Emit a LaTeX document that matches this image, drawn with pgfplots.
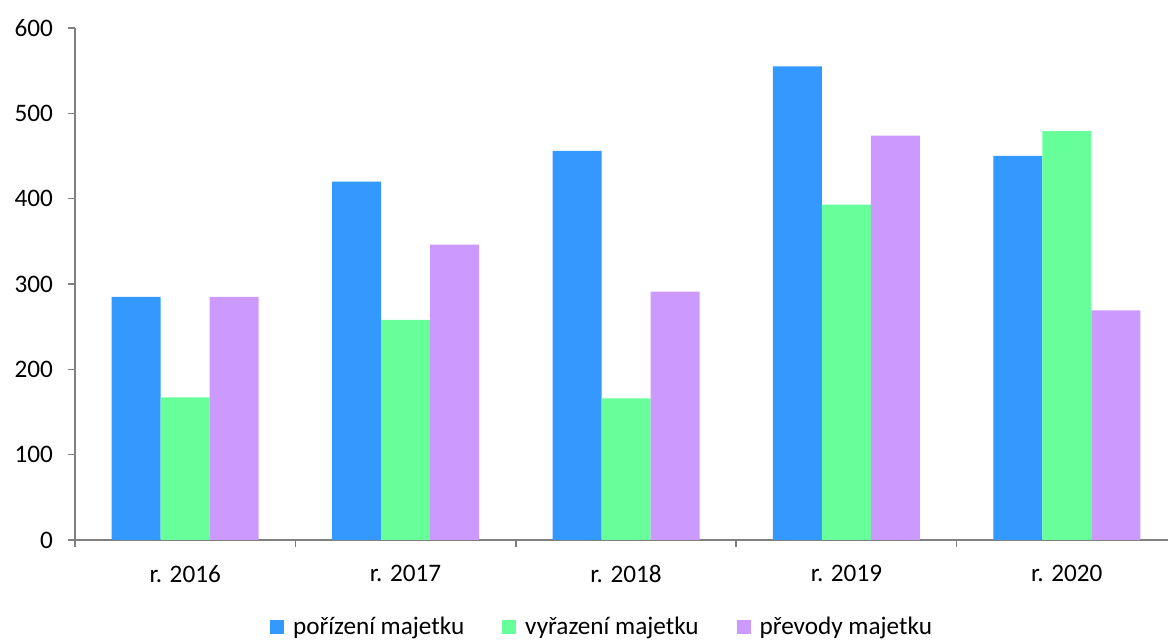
\documentclass[border=0pt]{standalone}
\usepackage{pgfplots}
\pgfplotsset{compat=1.18}
\usepackage{fontspec}
\setmainfont{Carlito}
\definecolor{cblue}{HTML}{3399FF}
\definecolor{cgreen}{HTML}{66FF99}
\definecolor{cpurple}{HTML}{CC99FF}
\definecolor{axgray}{HTML}{808080}
\begin{document}
\begin{tikzpicture}
\useasboundingbox (-37.5pt,-50.5pt) rectangle (546.5pt,270pt);
\begin{axis}[
  at={(0pt,0pt)}, anchor=south west,
  scale only axis,
  width=546.5pt, height=256pt,
  xmin=-0.5, xmax=4.459,
  ymin=0, ymax=600,
  ytick={0,100,...,600},
  xtick={0,1,2,3,4},
  xticklabels={r. 2016, r. 2017, r. 2018, r. 2019, r. 2020},
  minor xtick={-0.5,0.5,1.5,2.5,3.5},
  axis x line*=bottom, axis y line*=left,
  axis line style={axgray, line width=0.75pt},
  tick align=outside,
  major tick length=3.5pt,
  minor tick length=3.5pt,
  every tick/.style={axgray, line width=0.75pt},
  x tick style={draw=none},
  minor x tick style={draw=axgray, line width=0.75pt},
  /pgf/number format/assume math mode=true,
  tick label style={font=\fontsize{12.6}{15}\selectfont, text=black},
  yticklabel style={xshift=-4pt},
  xticklabel style={yshift=-5.5pt},
  ybar=0pt, bar width=24.5pt,
  legend style={at={(264pt,-43.5pt)}, anchor=center, draw=none,
    legend columns=-1, font=\fontsize{12.6}{15}\selectfont,
    /tikz/every even column/.append style={column sep=17pt}},
  legend image code/.code={\path (0pt,0pt) (9.5pt,0pt);\fill[#1] (0pt,-3.5pt) rectangle (7pt,3.5pt);},
  legend cell align=left,
]
\addplot[fill=cblue, draw=none] coordinates {(0,285) (1,420) (2,456) (3,555) (4,450)};
\addplot[fill=cgreen, draw=none] coordinates {(0,167) (1,258) (2,166) (3,393) (4,479)};
\addplot[fill=cpurple, draw=none] coordinates {(0,285) (1,346) (2,291) (3,474) (4,269)};
\legend{pořízení majetku, vyřazení majetku, převody majetku}
\end{axis}
\end{tikzpicture}
\end{document}
